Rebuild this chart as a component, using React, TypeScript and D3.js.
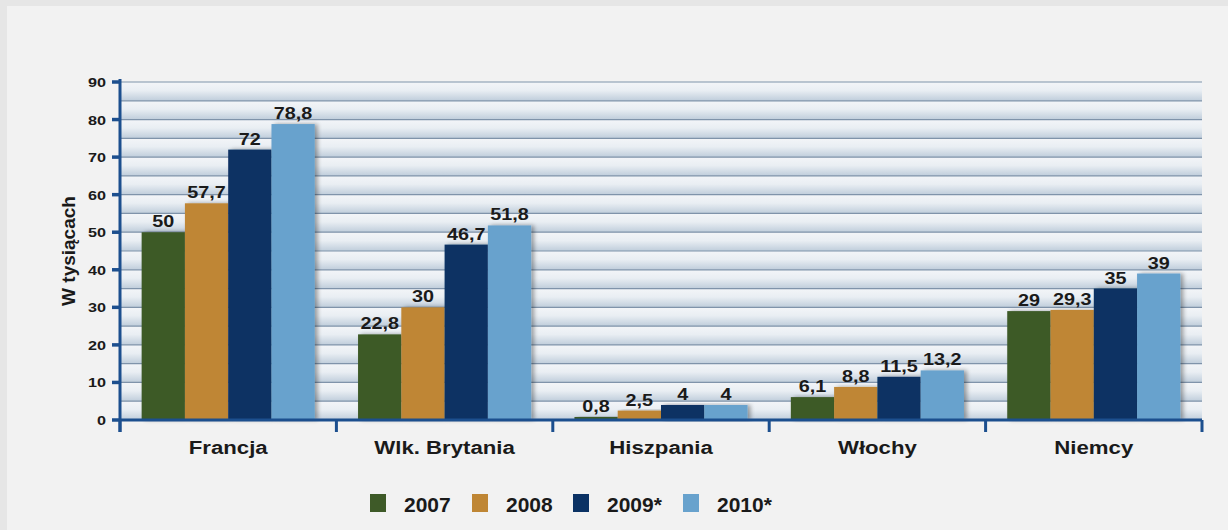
import React from "react";
import * as d3 from "d3";

const categories = ["Francja", "Wlk. Brytania", "Hiszpania", "Włochy", "Niemcy"];
const years = ["2007", "2008", "2009*", "2010*"];
const v2007 = [50, 22.8, 0.8, 6.1, 29];
const v2008 = [57.7, 30, 2.5, 8.8, 29.3];
const v2009 = [72, 46.7, 4, 11.5, 35];
const v2010 = [78.8, 51.8, 4, 13.2, 39];
const yTicks = [0, 10, 20, 30, 40, 50, 60, 70, 80, 90];
const colors = ["#3e5a28", "#bf8634", "#0b3264", "#68a2cd"];

const W = 1228, H = 530;
const plot = { left: 120, right: 1202, top: 82, bottom: 420 };
const SX = 1.2;

function T(props: { x: number; y: number; size: number; anchor?: string; children: React.ReactNode; sx?: number }) {
  const sx = props.sx ?? SX;
  return (
    <text transform={`translate(${props.x},${props.y}) scale(${sx},1)`} textAnchor={props.anchor || "middle"}
      fontSize={props.size} fontWeight="bold" fill="#1a1a1a">{props.children}</text>
  );
}

export default function App() {
  const series = [v2007, v2008, v2009, v2010];
  const y = d3.scaleLinear().domain([0, 90]).range([plot.bottom, plot.top]);
  const x0 = d3.scaleBand<string>().domain(categories).range([plot.left, plot.right]).padding(0);
  const groupW = x0.bandwidth() * 0.8;
  const x1 = d3.scaleBand<string>().domain(years).range([0, groupW]).padding(0);
  const grid = d3.range(5, 95, 5);
  const fmt = (v: number) => String(v).replace(".", ",");
  const font = "Arial, 'Liberation Sans', sans-serif";
  const legendX = [370, 472, 573, 683];

  return (
    <svg width={W} height={H} style={{ position: "absolute", left: 0, top: 0, display: "block" }} fontFamily={font}>
      <defs>
        <linearGradient id="band" x1="0" y1="0" x2="0" y2="1">
          <stop offset="0" stopColor="#f3f5f8" />
          <stop offset="0.45" stopColor="#e9eef3" />
          <stop offset="1" stopColor="#bfcddb" />
        </linearGradient>
        <filter id="sh" x="-10%" y="-10%" width="130%" height="120%">
          <feGaussianBlur in="SourceAlpha" stdDeviation="2" />
          <feOffset dx="3" dy="0" result="b" />
          <feComponentTransfer><feFuncA type="linear" slope="0.35" /></feComponentTransfer>
          <feMerge><feMergeNode /><feMergeNode in="SourceGraphic" /></feMerge>
        </filter>
      </defs>
      <rect x={0} y={0} width={W} height={H} fill="#e6e6e6" />
      <rect x={7} y={6} width={W - 7} height={H - 6} fill="#f2f2f2" />
      {grid.map((g) => (
        <rect key={"b" + g} x={plot.left} y={y(g)} width={plot.right - plot.left} height={y(g - 5) - y(g)} fill="url(#band)" />
      ))}
      {grid.map((g) => (
        <line key={"g" + g} x1={plot.left} x2={plot.right} y1={y(g)} y2={y(g)} stroke="#7f93aa" strokeWidth={1.2} />
      ))}
      {categories.map((c, ci) => (
        <g key={c} transform={`translate(${(x0(c) as number) + (x0.bandwidth() - groupW) / 2},0)`}>
          {series.map((s, si) => (
            <rect key={si} x={x1(years[si])} y={y(s[ci])} width={x1.bandwidth()} height={plot.bottom - y(s[ci])}
              fill={colors[si]} filter="url(#sh)" />
          ))}
          {series.map((s, si) => (
            <T key={"t" + si} x={(x1(years[si]) as number) + x1.bandwidth() / 2} y={y(s[ci]) - 5} size={16.5}>{fmt(s[ci])}</T>
          ))}
        </g>
      ))}
      <line x1={plot.left} x2={plot.left} y1={plot.top - 3} y2={plot.bottom + 12} stroke="#1c4f8e" strokeWidth={3} />
      <line x1={plot.left} x2={plot.right} y1={plot.bottom} y2={plot.bottom} stroke="#1c4f8e" strokeWidth={3} />
      {[...categories.map((c) => x0(c) as number), plot.right].map((xx, i) => (
        <line key={"xt" + i} x1={xx} x2={xx} y1={plot.bottom} y2={plot.bottom + 12} stroke="#1c4f8e" strokeWidth={3} />
      ))}
      {yTicks.map((t) => (
        <g key={"yt" + t}>
          <line x1={plot.left - 8} x2={plot.left} y1={y(t)} y2={y(t)} stroke="#1c4f8e" strokeWidth={3.5} />
          <T x={plot.left - 14} y={y(t) + 5} size={13.5} anchor="end">{t}</T>
        </g>
      ))}
      {categories.map((c) => (
        <T key={"c" + c} x={(x0(c) as number) + x0.bandwidth() / 2} y={454} size={18.5}>{c}</T>
      ))}
      <text transform={`translate(75,${(plot.top + plot.bottom) / 2}) rotate(-90)`} textAnchor="middle" fontSize={19} fontWeight="bold" fill="#1a1a1a">W tysiącach</text>
      {years.map((yr, i) => (
        <g key={"l" + yr}>
          <rect x={legendX[i]} y={494} width={16} height={18} fill={colors[i]} />
          <T x={legendX[i] + 34} y={512} size={20} anchor="start" sx={1.05}>{yr}</T>
        </g>
      ))}
    </svg>
  );
}
